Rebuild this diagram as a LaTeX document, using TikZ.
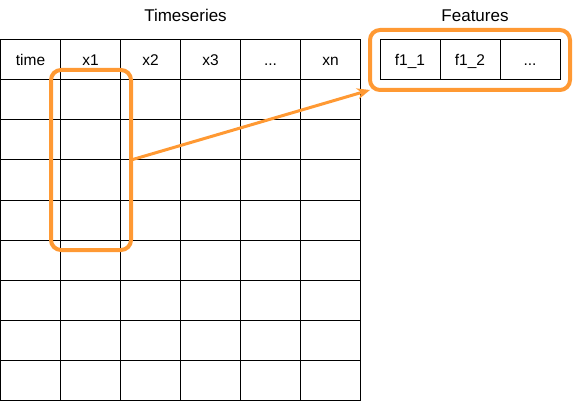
\documentclass[tikz,border=0pt]{standalone}
\usepackage{fontspec}
\setmainfont{Liberation Sans}
\usetikzlibrary{arrows.meta}
\definecolor{hlorange}{HTML}{FF9933}
\newcommand{\ellip}{...}

\begin{document}
\begin{tikzpicture}[x=1pt,y=-1pt,
        gridline/.style={line width=1pt},
        lbl/.style={font=\fontsize{15.5}{18}\selectfont,anchor=base},
        ttl/.style={font=\fontsize{17}{20}\selectfont,anchor=base},
        hl/.style={draw=hlorange,line width=4pt,rounded corners=10pt,inner sep=0pt,outer sep=0pt}]
                \useasboundingbox (0,0) rectangle (573,401);
                \foreach \i in {0,...,6}{
                    \draw[gridline] (0.5+60*\i,40) -- (0.5+60*\i,400);
                }
                \foreach \j in {0,...,9}{
                    \draw[gridline] (0,40+40*\j) -- (361,40+40*\j);
                }
                \foreach \t [count=\i from 0] in {time,x1,x2,x3,\ellip,xn}{
                    \node[lbl] (h\i) at (30.5+60*\i,65.5) {\t};
                }
                \draw[gridline] (380,40) rectangle (560,80);
                \draw[gridline] (440,40) -- (440,80);
                \draw[gridline] (500,40) -- (500,80);
                \foreach \t [count=\i from 0] in {f1\_1,f1\_2,\ellip}{
                    \node[lbl] (f\i) at (410+60*\i,65.5) {\t};
                }
                \node[ttl] (tstitle) at (185.5,22) {Timeseries};
                \node[ttl] (fttitle) at (475,22) {Features};
                \node[hl,minimum width=80pt,minimum height=180pt] (colsel) at (91,160) {};
                \node[hl,minimum width=200pt,minimum height=60pt] (featsel) at (470,60) {};
                \draw[line width=3pt,hlorange,-{Stealth[length=13pt,width=11pt]}] (colsel.east) -- (featsel.south west);
            \end{tikzpicture}
\end{document}
